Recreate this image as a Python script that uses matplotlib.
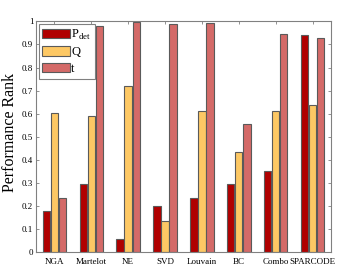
import matplotlib
matplotlib.use("Agg")
import matplotlib.pyplot as plt
import numpy as np

categories = ["NGA", "Martelot", "NE", "SVD", "Louvain", "BC", "Combo", "SPARCODE"]
p_det = [0.18, 0.293, 0.058, 0.200, 0.235, 0.295, 0.352, 0.940]
q_vals = [0.605, 0.590, 0.718, 0.135, 0.612, 0.435, 0.612, 0.638]
t_vals = [0.233, 0.980, 0.998, 0.990, 0.995, 0.555, 0.945, 0.930]
series_labels = [r"P$_{\rm det}$", "Q", "t"]
colors = ["#B00000", "#FDC864", "#D46A68"]

plt.rcParams["font.family"] = ["Liberation Serif", "DejaVu Serif"]
plt.rcParams["mathtext.fontset"] = "custom"
plt.rcParams["mathtext.rm"] = "Liberation Serif"

fig = plt.figure(figsize=(3.54, 2.71), dpi=100)
ax = fig.add_axes([0.1017, 0.070, 0.8333, 0.851])

x = np.arange(1, len(categories) + 1)
w = 0.2
off = 0.22
for i, (vals, lab, c) in enumerate(zip([p_det, q_vals, t_vals], series_labels, colors)):
    ax.bar(x + (i - 1) * off, vals, width=w, color=c, edgecolor="#5a5a5a",
           linewidth=0.8, label=lab, zorder=2)

ax.set_xlim(0.5, 8.5)
ax.set_ylim(0, 1)
ax.set_xticks(x)
ax.set_xticklabels(categories, fontsize=6.5)
ax.set_yticks(np.arange(0, 1.01, 0.1))
ax.set_yticklabels(["0"] + [f"{v:.1f}" for v in np.arange(0.1, 0.95, 0.1)] + ["1"], fontsize=6.5)
ax.tick_params(direction="in", top=True, right=True, length=2.5, width=0.6,
               color="#808080", pad=2)
ax.tick_params(axis="x", pad=4)
for s in ax.spines.values():
    s.set_color("#808080")
    s.set_linewidth(0.8)
ax.set_ylabel("Performance Rank", fontsize=11.5)
ax.yaxis.set_label_coords(-0.062, 0.52)

leg = ax.legend(loc="upper left", fontsize=9, handlelength=2.2, handleheight=0.8,
                borderpad=0.3, labelspacing=0.35, handletextpad=0.1,
                borderaxespad=0.2, fancybox=False, framealpha=1)
leg.get_frame().set_edgecolor("#808080")
leg.get_frame().set_linewidth(0.8)

fig.savefig("out.png", dpi=100)
